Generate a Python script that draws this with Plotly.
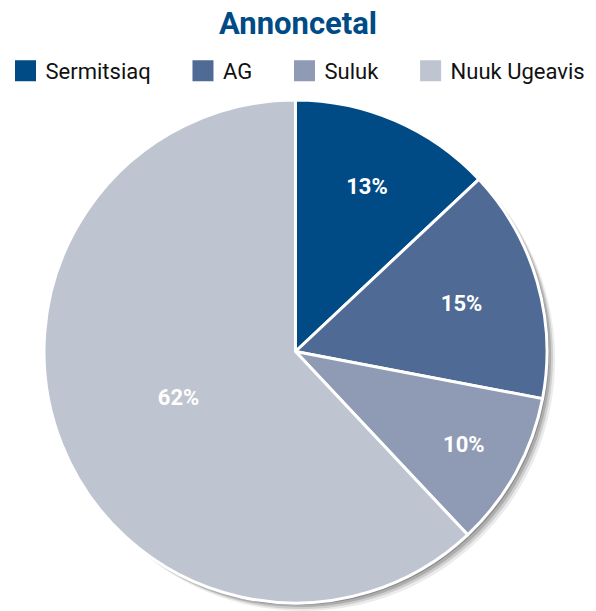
import plotly.graph_objects as go

labels = ["Sermitsiaq", "AG", "Suluk", "Nuuk Ugeavis"]
values = [13, 15, 10, 62]
colors = ["#004b85", "#4f6a95", "#8f9bb4", "#bec4d0"]
title = "Annoncetal"

W, H = 596, 611
T = 100
ph = H - T
PX0, D = 44, 503  # pie left edge and diameter in px

def dom(off):
    return dict(x=[(PX0 + off) / W, (PX0 + off + D) / W],
                y=[(ph - off - D) / ph, (ph - off) / ph])

fig = go.Figure()

# soft drop shadow (offset layers)
for off, alpha in [(8, 0.08), (6, 0.12), (4, 0.16), (2, 0.18)]:
    fig.add_trace(go.Pie(
        values=[1], labels=["shadow"], marker=dict(colors=[f"rgba(0,0,0,{alpha})"], line=dict(width=0)),
        textinfo="none", hoverinfo="skip", showlegend=False, sort=False,
        domain=dom(off),
    ))

fig.add_trace(go.Pie(
    labels=labels, values=values, sort=False, direction="clockwise", rotation=0,
    marker=dict(colors=colors, line=dict(color="white", width=3)),
    texttemplate="%{percent:.0%}", textposition="inside", insidetextorientation="horizontal",
    textfont=dict(family="Roboto", size=22, color="white", weight="bold"),
    showlegend=False, hoverinfo="label+percent",
    domain=dom(0),
))

# legend entries with larger square swatches (spacing via trailing non-breaking spaces)
for i, (lab, col) in enumerate(zip(labels, colors)):
    pad = "" if i == len(labels) - 1 else "\u00a0" * 5
    fig.add_trace(go.Scatter(
        x=[None], y=[None], mode="markers", name=lab + pad,
        marker=dict(symbol="square", size=16, color=col, line=dict(color=col, width=5)),
        xaxis="x", yaxis="y",
    ))

fig.update_layout(
    width=W, height=H,
    margin=dict(l=0, r=0, t=T, b=0, autoexpand=False),
    paper_bgcolor="white", plot_bgcolor="rgba(0,0,0,0)",
    title=dict(text=title, x=0.5, xanchor="center", y=1 - 23 / H, yanchor="middle",
               font=dict(family="Roboto", size=31, color="#004b85", weight="bold")),
    legend=dict(orientation="h", x=0.5, xanchor="center",
                y=1 - 71 / H, yref="container", yanchor="middle",
                font=dict(family="Roboto", size=22, color="#111111"), itemsizing="trace",
                itemclick=False, itemdoubleclick=False),
    xaxis=dict(visible=False), yaxis=dict(visible=False),
)

fig.write_html("out.html")
